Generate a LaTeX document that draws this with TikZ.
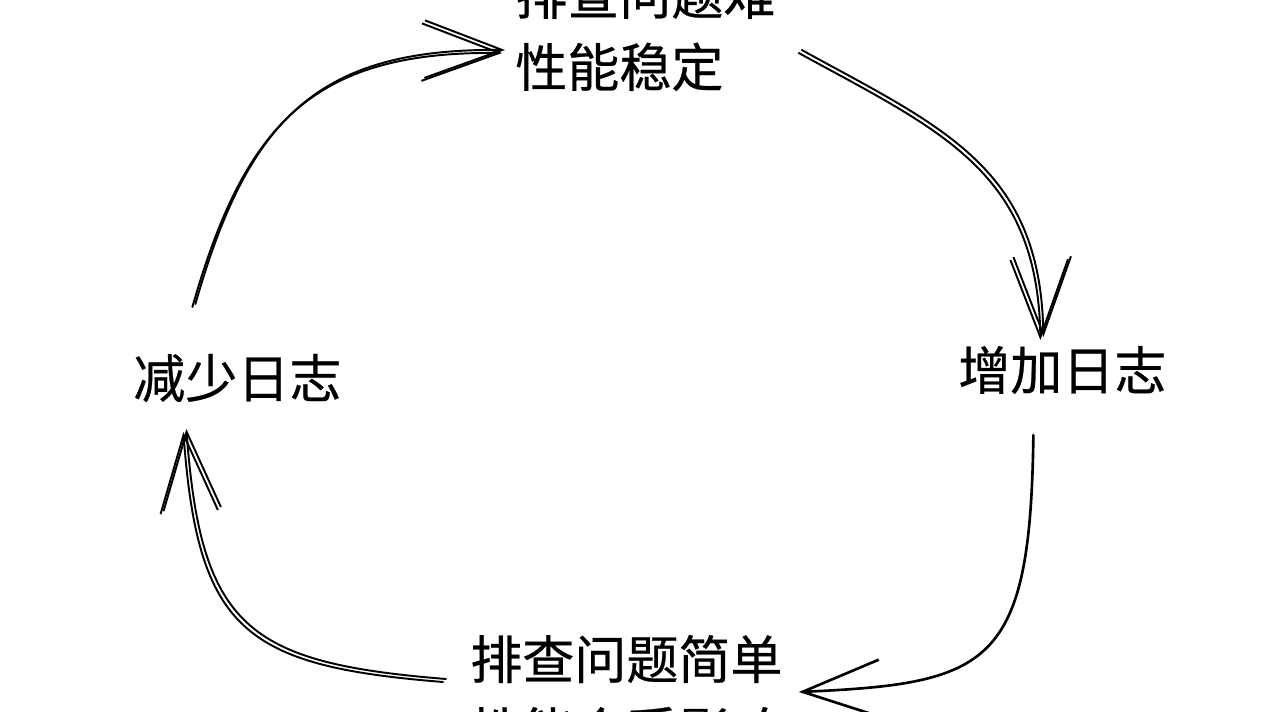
\documentclass[tikz,border=0pt]{standalone}
\usepackage{fontspec}
\usepackage{tikz}
\usetikzlibrary{arrows.meta,calc}
\newfontfamily\cjk[FakeBold=0.5]{Noto Sans CJK SC}
\tikzset{
  loop label/.style={font=\cjk\fontsize{29.6}{41}\selectfont, align=left,
    inner sep=0pt, anchor=west},
  loop arrow/.style={-{Straight Barb[length=15.5mm,width=11.5mm]},
    line width=1.1pt, line cap=round, line join=round, draw=black},
  second stroke/.style={transform canvas={shift={(0.06,0.06)}}}
}

\begin{document}
\begin{tikzpicture}
  \useasboundingbox (0,0) rectangle (25.28,14.22);
  \clip (0,0) rectangle (25.28,14.22);
  \fill[white] (0,0) rectangle (25.28,14.22);

  \node[loop label] (stable) at (10.3,13.6) {排查问题难\\性能稳定};
  \node[loop label] (addlog) at (19.16,6.82) {增加日志};
  \node[loop label] (easy) at (9.4,0.32) {排查问题简单\\性能会受影响};
  \node[loop label] (cutlog) at (2.66,6.66) {减少日志};

  % fewer logs -> stable
  \draw[loop arrow] ($(cutlog.center)+(-0.9,1.42)$)
    .. controls +(1.06,3.72) and +(-3.74,0.04) .. ($(stable.west)+(-0.26,-0.44)$);
  \draw[loop arrow, second stroke] ($(cutlog.center)+(-0.9,1.42)$)
    .. controls +(1.06,3.72) and +(-3.74,0.04) .. ($(stable.west)+(-0.26,-0.44)$);

  % stable -> more logs
  \draw[loop arrow] ($(stable.east)+(0.46,-0.44)$)
    .. controls +(2.84,-1.56) and +(-0.05,3.38) .. ($(addlog.center)+(-0.44,0.6)$);
  \draw[loop arrow, second stroke] ($(stable.east)+(0.46,-0.44)$)
    .. controls +(2.84,-1.56) and +(-0.05,3.38) .. ($(addlog.center)+(-0.44,0.6)$);

  % more logs -> easy
  \draw[loop arrow, line width=1.5pt] ($(addlog.center)+(-0.58,-1.3)$)
    .. controls +(-0.06,-4.62) and +(3.84,0.17) .. ($(easy.east)+(0.32,0.06)$);

  % easy -> fewer logs
  \draw[loop arrow] ($(easy.west)+(-0.54,0.26)$)
    .. controls +(-3.96,0.32) and +(0.29,-3.98) .. ($(cutlog.center)+(-1.08,-1.08)$);
  \draw[loop arrow, second stroke] ($(easy.west)+(-0.54,0.26)$)
    .. controls +(-3.96,0.32) and +(0.29,-3.98) .. ($(cutlog.center)+(-1.08,-1.08)$);
\end{tikzpicture}
\end{document}
